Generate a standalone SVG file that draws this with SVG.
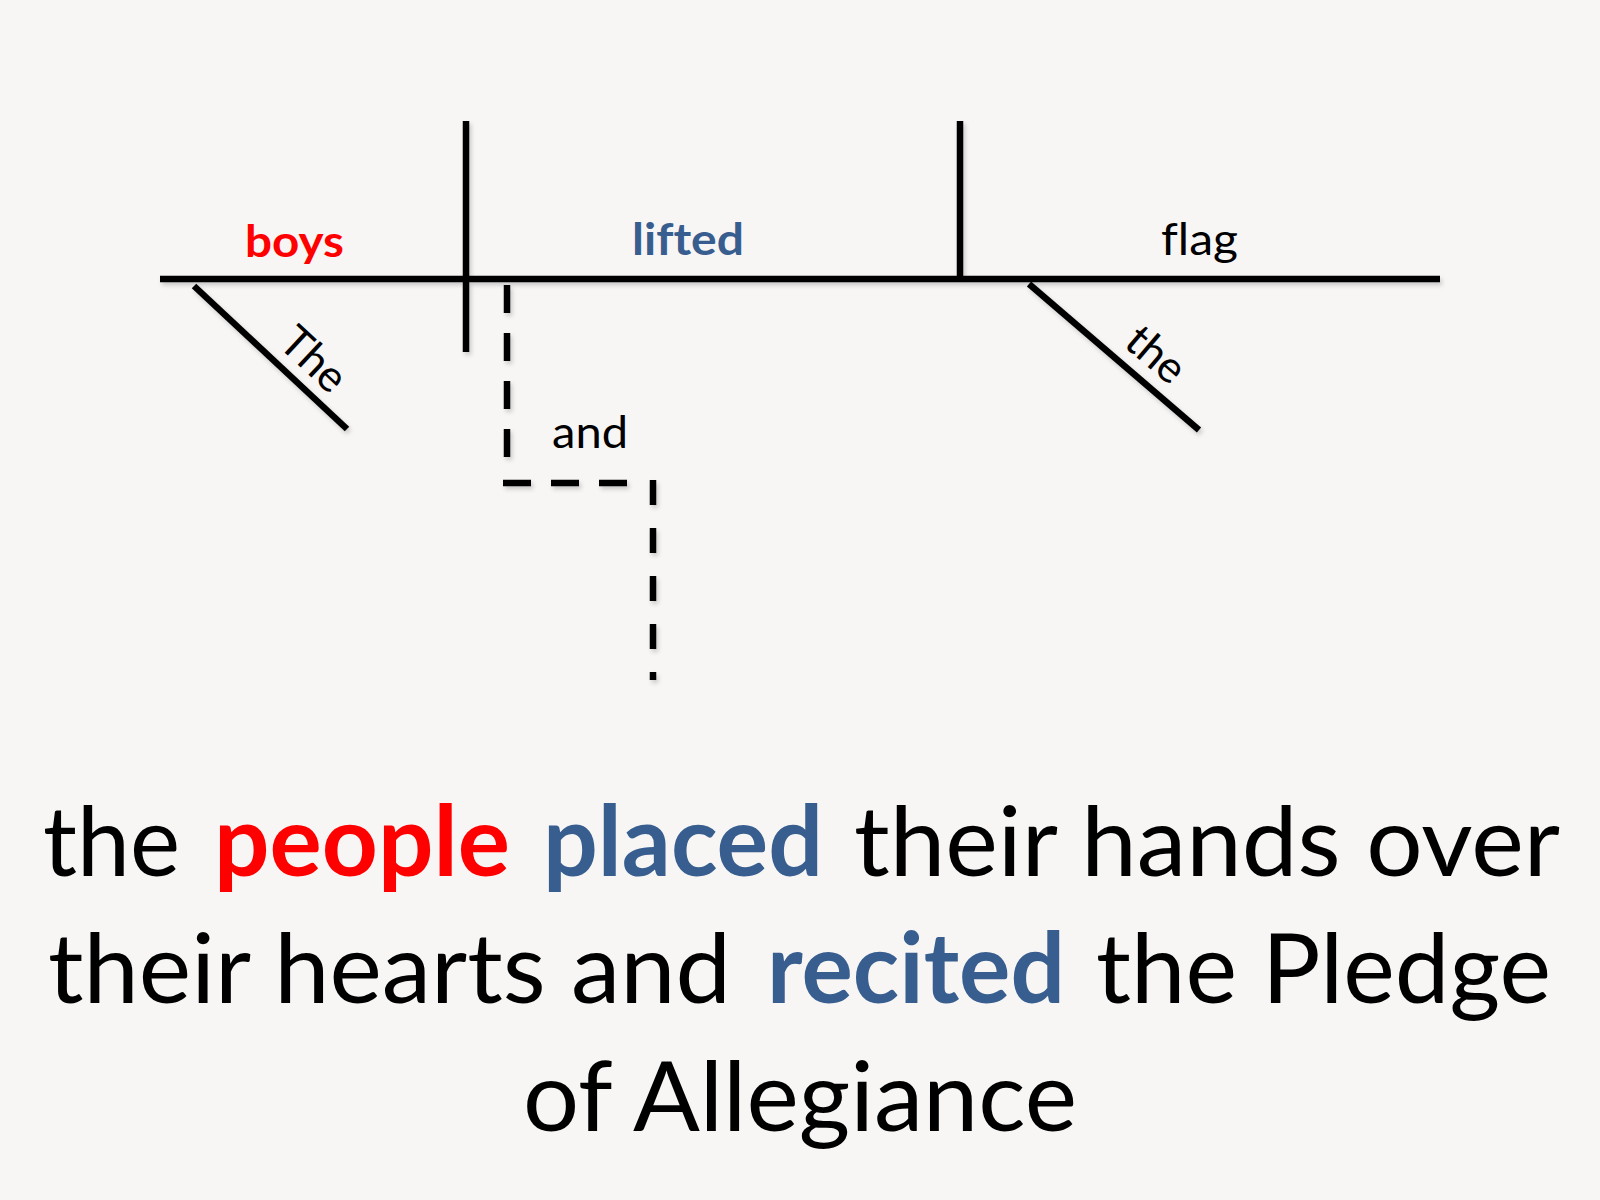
<svg xmlns="http://www.w3.org/2000/svg" width="1600" height="1200" viewBox="0 0 1600 1200">
<style>
.ln{stroke:#000;stroke-width:6.5;fill:none;stroke-linecap:butt}
.dash1{stroke-dasharray:28 20}
.dash2{stroke-dasharray:25 23}
.t{font-family:Lato,"Open Sans",sans-serif;fill:#000;font-variant-ligatures:none}
.lbl{font-size:44px}
.big{font-size:97px}
.b{font-weight:700}
.red{fill:#FF0000}
.blue{fill:#385E8F}
</style>
<defs>
<filter id="sh" x="-5%" y="-5%" width="110%" height="110%">
<feDropShadow dx="2" dy="3" stdDeviation="2" flood-color="#000" flood-opacity="0.18"/>
</filter>
</defs>
<rect width="1600" height="1200" fill="#F7F6F5"/>
<g id="connectors" filter="url(#sh)">
<path class="ln" d="M160 279 H1440"/>
<path class="ln" d="M466 121 V352"/>
<path class="ln" d="M960 121 V279"/>
<path class="ln" d="M194 286 L347 429"/>
<path class="ln" d="M1029 284 L1199 430"/>
<path class="ln dash1" d="M507 285 V458"/>
<path class="ln dash1" d="M503 483 H630"/>
<path class="ln dash2" d="M653 480 V680"/>
</g>
<g id="subject"><text class="t lbl b red" x="245" y="257" textLength="99" lengthAdjust="spacingAndGlyphs">boys</text></g>
<g id="verb"><text class="t lbl b blue" x="632" y="255" textLength="112" lengthAdjust="spacingAndGlyphs">lifted</text></g>
<g id="object"><text class="t lbl" x="1161" y="255" textLength="77" lengthAdjust="spacingAndGlyphs">flag</text></g>
<g id="mod-the-1"><text class="t lbl" text-anchor="middle" transform="translate(303.5 370.3) rotate(43)">The</text></g>
<g id="mod-the-2"><text class="t lbl" text-anchor="middle" transform="translate(1146.3 365.8) rotate(40.5)">the</text></g>
<g id="conjunction"><text class="t lbl" x="552" y="448" textLength="76" lengthAdjust="spacingAndGlyphs">and</text></g>
<g id="sentence">
<text class="t big" x="43" y="876" textLength="137" lengthAdjust="spacingAndGlyphs">the</text>
<text class="t big b red" x="214" y="876" textLength="296" lengthAdjust="spacingAndGlyphs">people</text>
<text class="t big b blue" x="543" y="876" textLength="280" lengthAdjust="spacingAndGlyphs">placed</text>
<text class="t big" x="854" y="876" textLength="706" lengthAdjust="spacingAndGlyphs">their hands over</text>
<text class="t big" x="48" y="1003" textLength="683" lengthAdjust="spacingAndGlyphs">their hearts and</text>
<text class="t big b blue" x="767" y="1003" textLength="298" lengthAdjust="spacingAndGlyphs">recited</text>
<text class="t big" x="1096" y="1003" textLength="455" lengthAdjust="spacingAndGlyphs">the Pledge</text>
<text class="t big" x="523" y="1131" textLength="554" lengthAdjust="spacingAndGlyphs">of Allegiance</text>
</g>
</svg>
